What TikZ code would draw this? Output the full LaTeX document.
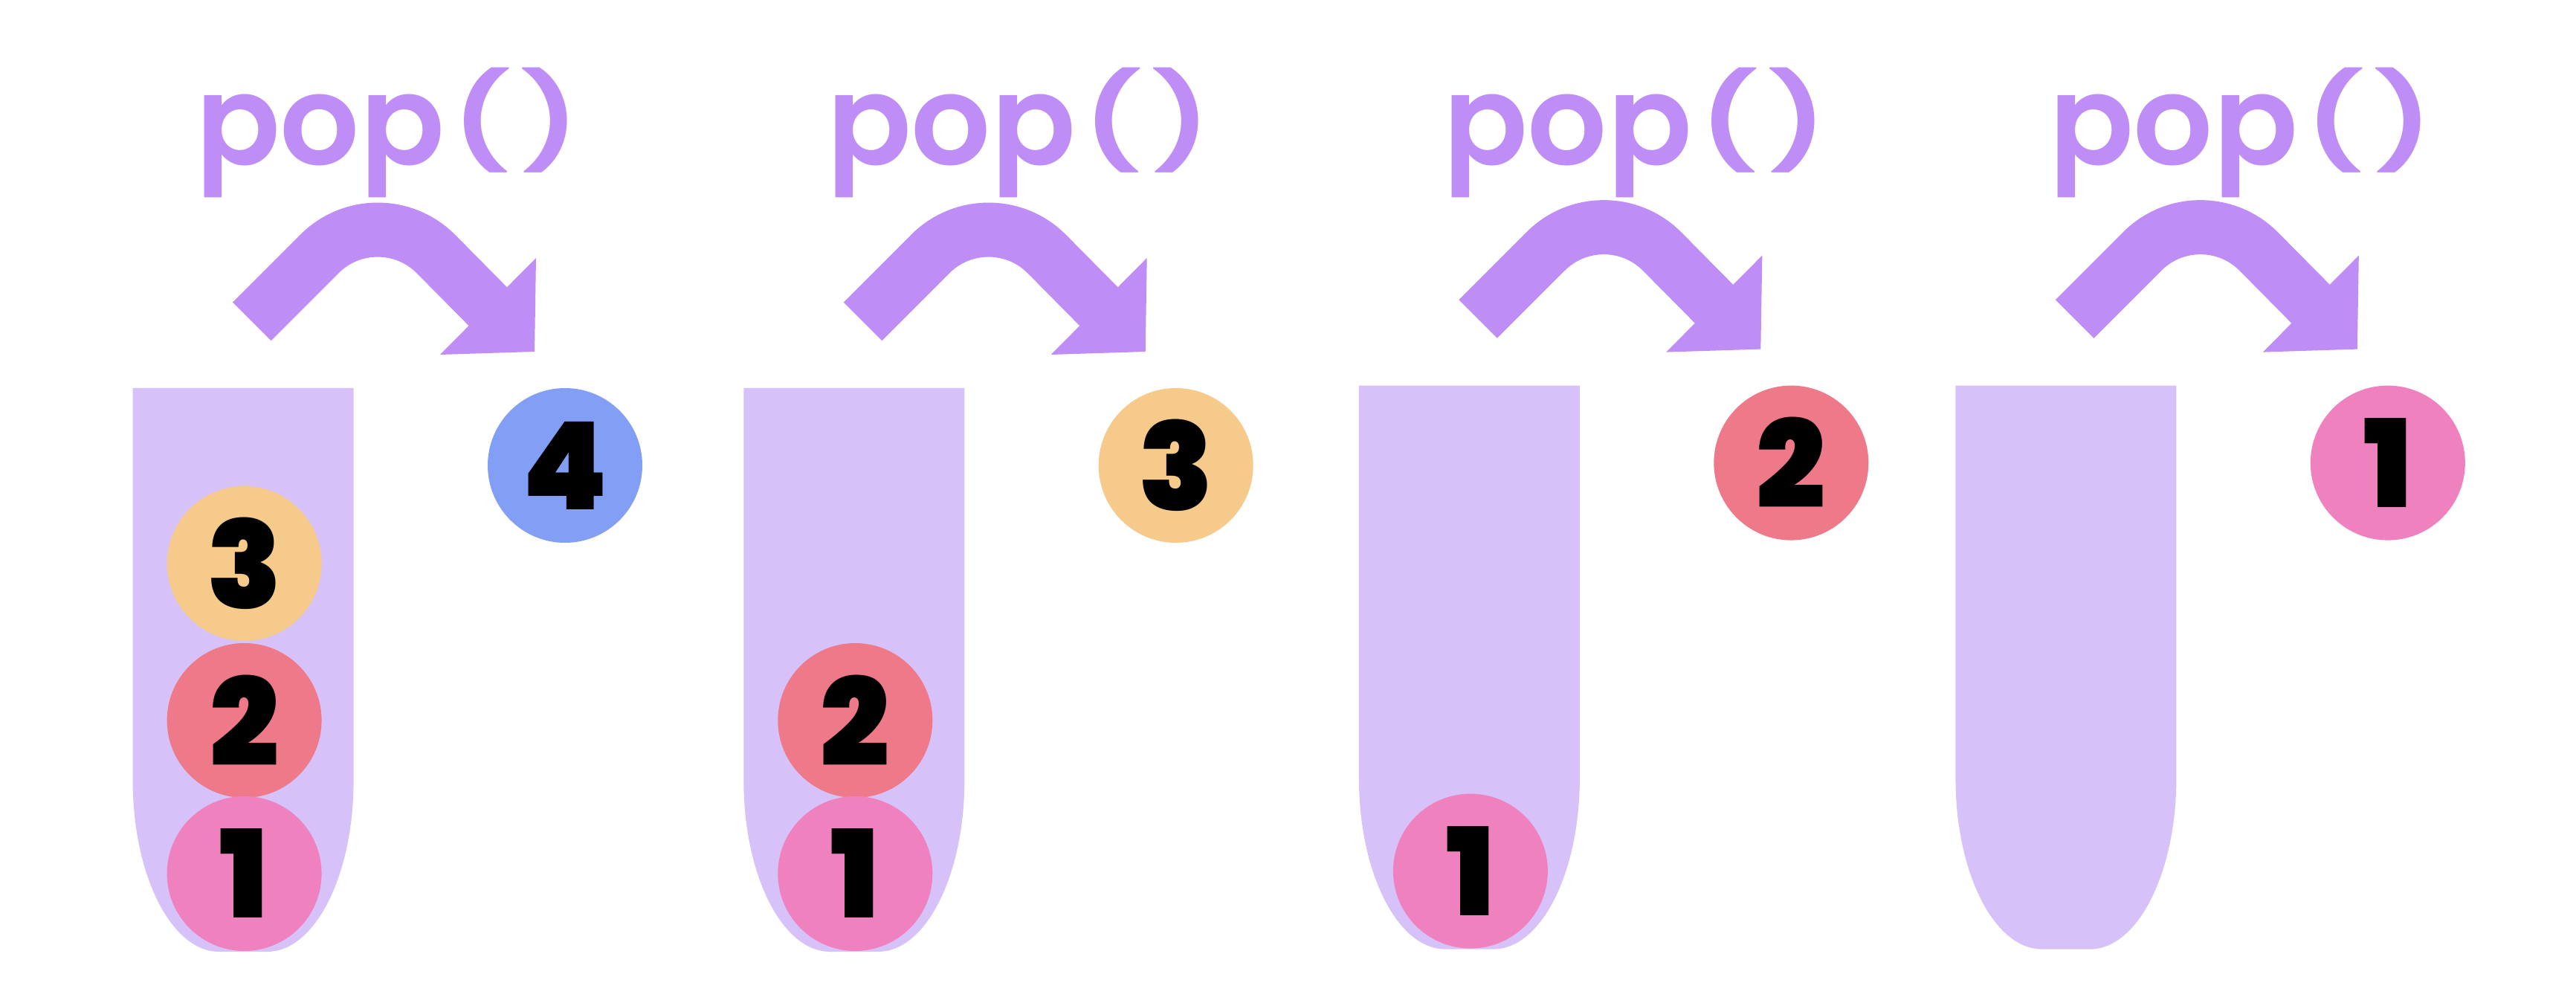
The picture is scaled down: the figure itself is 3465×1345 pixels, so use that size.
\documentclass[tikz,border=0pt]{standalone}
\usepackage{fontspec}
\setmainfont{DejaVu Sans}
\newfontfamily\digitfont{Poppins Black}
\newfontfamily\popfont{Poppins SemiBold}
\definecolor{tubec}{HTML}{D6C2F9}
\definecolor{arrc}{HTML}{BE8DF6}
\definecolor{cone}{HTML}{EF82BE}
\definecolor{ctwo}{HTML}{EE7A89}
\definecolor{cthree}{HTML}{F6CA8A}
\definecolor{cfour}{HTML}{829EF5}
\tikzset{
  ball/.style={circle, minimum size=52pt, inner sep=0pt, text=black,
    font=\digitfont\fontsize{41}{41}\selectfont},
  band/.style={draw=arrc, line width=18.25pt, rounded corners=27.5pt, line cap=butt, line join=round},
  poptext/.style={text=arrc, anchor=base, inner sep=0pt, font=\popfont\fontsize{42}{42}\selectfont},
  tubefill/.style={fill=tubec}
}
\newcommand{\poplabel}{pop\kern2pt\raisebox{3.5pt}{\scalebox{1}[0.75]{(\kern3pt)}}}
\newcommand{\mytube}{%
  \fill[tubefill] (0,522) -- (297,522) -- (297,1050)
    arc[start angle=0,end angle=90,x radius=116,y radius=230] -- (116,1280)
    arc[start angle=90,end angle=180,x radius=116,y radius=230] -- cycle;}
\newcommand{\myarrow}[1]{%
  \coordinate (s#1) at (160.2,432.4);
  \coordinate (m#1) at (329,263.6);
  \coordinate (e#1) at (477.4,412);
  \coordinate (f#1) at (482.4,417);
  \draw[band] (s#1) -- (m#1) -- (f#1);
  \fill[arrc] ([shift={(65,-65)}]e#1) -- ([shift={(63,61)}]e#1) -- ([shift={(-64,65)}]e#1) -- cycle;}
\begin{document}
\begin{tikzpicture}[x=0.25pt,y=-0.25pt]
\fill[white] (0,0) rectangle (3465,1345);
\useasboundingbox (0,0) rectangle (3465,1345);
% panel 1
\begin{scope}[shift={(178.6,0)}]
  \mytube
  \myarrow{a}
  \node[ball, fill=cthree] (pa3) at (150,758) {3};
  \node[ball, fill=ctwo] (pa2) at (150,969) {2};
  \node[ball, fill=cone] (pa1) at (150,1175) {1};
  \node[ball, fill=cfour] (pa4) at (581.4,626) {4};
\end{scope}
% panel 2
\begin{scope}[shift={(1000.3,0)}]
  \mytube
  \myarrow{b}
  \node[ball, fill=ctwo] (pb2) at (150,969) {2};
  \node[ball, fill=cone] (pb1) at (150,1175) {1};
  \node[ball, fill=cthree] (pb3) at (581.4,626) {3};
\end{scope}
% panel 3
\begin{scope}[shift={(1827.9,-3.4)}]
  \mytube
  \myarrow{c}
  \node[ball, fill=cone] (pc1) at (150,1175) {1};
  \node[ball, fill=ctwo] (pc2) at (581.4,626) {2};
\end{scope}
% panel 4
\begin{scope}[shift={(2630.4,-3.4)}]
  \mytube
  \myarrow{d}
  \node[ball, fill=cone] (pd1) at (581.4,626) {1};
\end{scope}
\node[poptext] (ta) at (522,222) {\poplabel};
\node[poptext] (tb) at (1371,222) {\poplabel};
\node[poptext] (tc) at (2200,222) {\poplabel};
\node[poptext] (td) at (3015,222) {\poplabel};
\end{tikzpicture}
\end{document}
